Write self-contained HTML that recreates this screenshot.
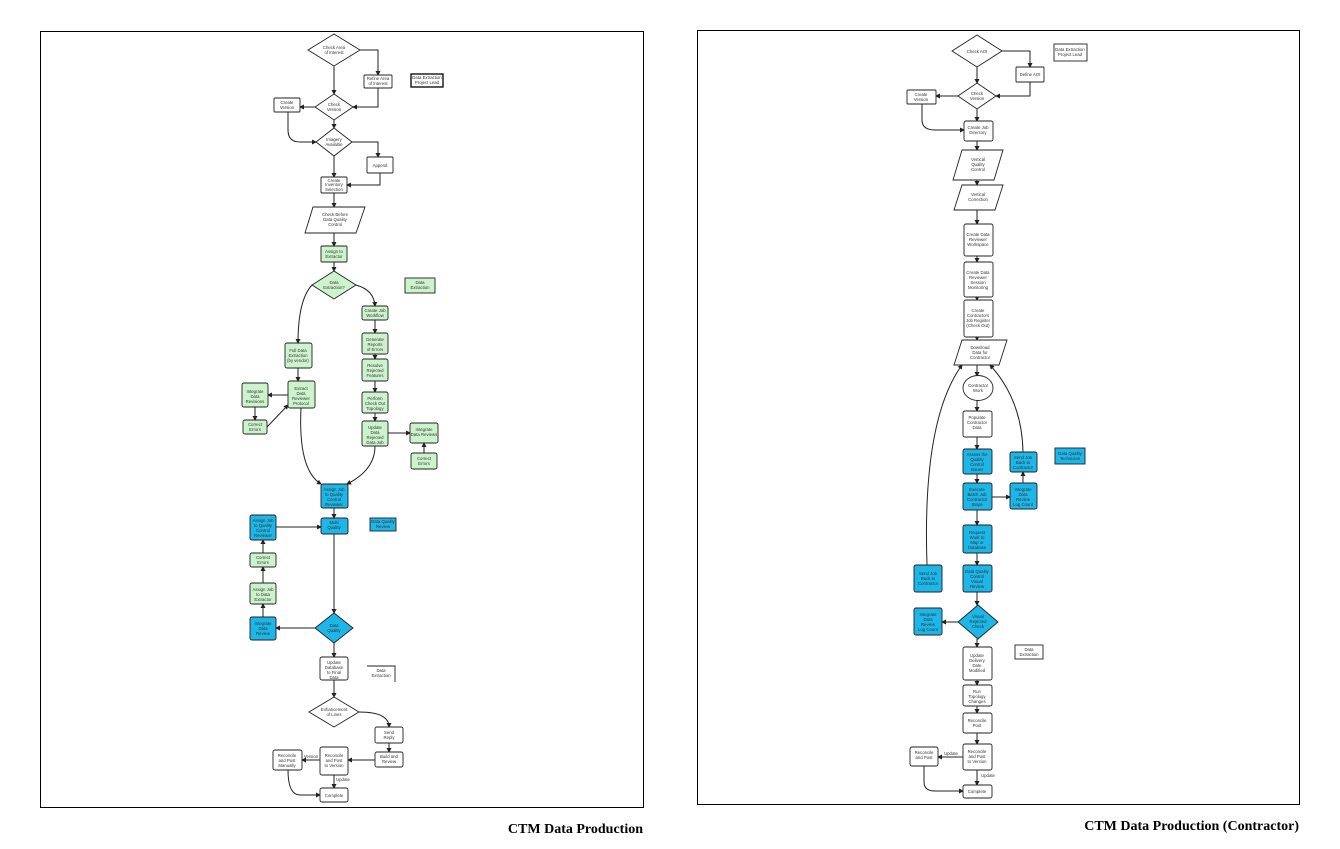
<!DOCTYPE html>
<html><head><meta charset="utf-8"><style>
html,body{margin:0;padding:0;background:#fff;width:1340px;height:849px;overflow:hidden}
svg{display:block}
.t{font-family:"Liberation Sans",sans-serif;font-size:4.3px;fill:#333;text-anchor:middle}
.b{fill:#fff;stroke:#222;stroke-width:0.9}
.g{fill:#cdf3cd;stroke:#222;stroke-width:0.9}
.c{fill:#1cb6e8;stroke:#222;stroke-width:0.9}
.l{fill:none;stroke:#222;stroke-width:1}
.cap{font-family:"Liberation Serif",serif;font-weight:bold;font-size:14px;fill:#000;text-anchor:end}
</style></head><body>
<svg width="1340" height="849" viewBox="0 0 1340 849">
<defs><marker id="a" markerWidth="5" markerHeight="5" refX="4" refY="2.5" orient="auto"><path d="M0,0L5,2.5L0,5z" fill="#222"/></marker></defs>
<rect x="40.5" y="31.5" width="603" height="776" fill="none" stroke="#000" stroke-width="1"/>
<rect x="697.5" y="30.5" width="602" height="774" fill="none" stroke="#000" stroke-width="1"/>
<text class="cap" x="643" y="833">CTM Data Production</text>
<text class="cap" x="1299" y="830">CTM Data Production (Contractor)</text>

<!-- LEFT connectors -->
<g class="l" marker-end="url(#a)">
<path d="M334,66V94"/>
<path d="M360,50H378V75"/>
<path d="M378,88V107H353"/>
<path d="M315,107H300"/>
<path d="M334,120V128"/>
<path d="M288,112V130Q288,142 300,142H316"/>
<path d="M352,142H378V157"/>
<path d="M334,156V177"/>
<path d="M380,173V185H347"/>
<path d="M334,193V207"/>
<path d="M334,233V246"/>
<path d="M334,262V271"/>
<path d="M356,285Q374,290 375,306"/>
<path d="M312,285Q298,300 298,343"/>
<path d="M375,320V333"/><path d="M375,354V359"/><path d="M375,381V392"/><path d="M375,413V421"/>
<path d="M388,433H410"/><path d="M424,453V443"/>
<path d="M298,368V381"/>
<path d="M288,395H268"/><path d="M255,407V420"/><path d="M267,427L288,405"/>
<path d="M301,408Q298,470 321,484"/>
<path d="M375,446Q375,470 347,484"/>
<path d="M334,508V518"/>
<path d="M276,527H321"/>
<path d="M334,534V613"/>
<path d="M315,628H276"/>
<path d="M263,617V604"/><path d="M263,583V567"/><path d="M263,553V540"/>
<path d="M334,643V657"/>
<path d="M334,680V697"/>
<path d="M359,712Q389,712 389,727"/>
<path d="M389,743V752"/>
<path d="M375,760H348"/>
<path d="M320,760H302"/>
<path d="M334,775V788"/>
<path d="M288,770Q288,795 300,795H320"/>
</g>
<!-- LEFT nodes -->
<polygon class="b" points="334,34 360,50 334,66 308,50"/><text class="t" x="334" y="49">Check Area</text><text class="t" x="334" y="54">of Interest</text>
<rect class="b" x="364" y="75" width="28" height="13" rx="1"/><text class="t" x="378" y="80">Refine Area</text><text class="t" x="378" y="85">of Interest</text>
<rect x="411" y="74" width="32" height="13" fill="#fff" stroke="#000" stroke-width="1.3"/><text class="t" x="427" y="79">Data Extraction</text><text class="t" x="427" y="84">Project Lead</text>
<polygon class="b" points="334,94 353,107 334,120 315,107"/><text class="t" x="334" y="106">Check</text><text class="t" x="334" y="111">Version</text>
<rect class="b" x="274" y="98" width="26" height="14" rx="1"/><text class="t" x="287" y="104">Create</text><text class="t" x="287" y="109">Version</text>
<polygon class="b" points="334,128 352,142 334,156 316,142"/><text class="t" x="334" y="141">Imagery</text><text class="t" x="334" y="146">Available</text>
<rect class="b" x="367" y="157" width="26" height="16" rx="1"/><text class="t" x="380" y="167">Append</text>
<rect class="b" x="321" y="177" width="26" height="16" rx="1"/><text class="t" x="334" y="182">Create</text><text class="t" x="334" y="186">Inventory</text><text class="t" x="334" y="191">Selection</text>
<polygon class="b" points="313,207 365,207 356,233 305,233"/><text class="t" x="335" y="216">Check Before</text><text class="t" x="335" y="221">Data Quality</text><text class="t" x="335" y="226">Control</text>
<rect class="g" x="321" y="246" width="26" height="16" rx="1"/><text class="t" x="334" y="253">Assign to</text><text class="t" x="334" y="258">Extractor</text>
<polygon class="g" points="334,271 356,285 334,299 312,285"/><text class="t" x="334" y="284">Data</text><text class="t" x="334" y="289">Extraction?</text>
<rect class="g" x="405" y="278" width="30" height="15"/><text class="t" x="420" y="284">Data</text><text class="t" x="420" y="289">Extraction</text>
<rect class="g" x="285" y="343" width="27" height="25" rx="2"/><text class="t" x="298" y="352">Full Data</text><text class="t" x="298" y="357">Extraction</text><text class="t" x="298" y="362">(by vendor)</text>
<rect class="g" x="288" y="381" width="27" height="27" rx="2"/><text class="t" x="301" y="390">Extract</text><text class="t" x="301" y="395">Data</text><text class="t" x="301" y="400">Reviewer</text><text class="t" x="301" y="405">Protocol</text>
<rect class="g" x="242" y="383" width="26" height="24" rx="2"/><text class="t" x="255" y="393">Integrate</text><text class="t" x="255" y="398">Data</text><text class="t" x="255" y="403">Revisions</text>
<rect class="g" x="243" y="420" width="24" height="14" rx="2"/><text class="t" x="255" y="426">Correct</text><text class="t" x="255" y="431">Errors</text>
<rect class="g" x="362" y="306" width="26" height="14" rx="2"/><text class="t" x="375" y="312">Create Job</text><text class="t" x="375" y="317">Workflow</text>
<rect class="g" x="362" y="333" width="26" height="21" rx="2"/><text class="t" x="375" y="341">Generate</text><text class="t" x="375" y="346">Reports</text><text class="t" x="375" y="351">of Errors</text>
<rect class="g" x="362" y="359" width="26" height="22" rx="2"/><text class="t" x="375" y="367">Resolve</text><text class="t" x="375" y="372">Rejected</text><text class="t" x="375" y="377">Features</text>
<rect class="g" x="362" y="392" width="26" height="21" rx="2"/><text class="t" x="375" y="400">Perform</text><text class="t" x="375" y="405">Check Out</text><text class="t" x="375" y="410">Topology</text>
<rect class="g" x="362" y="421" width="26" height="25" rx="2"/><text class="t" x="375" y="429">Update</text><text class="t" x="375" y="434">Data</text><text class="t" x="375" y="439">Rejected</text><text class="t" x="375" y="444">Data Job</text>
<rect class="g" x="410" y="423" width="28" height="20" rx="2"/><text class="t" x="424" y="431">Integrate</text><text class="t" x="424" y="436">Data Reviews</text>
<rect class="g" x="411" y="453" width="26" height="16" rx="2"/><text class="t" x="424" y="460">Correct</text><text class="t" x="424" y="465">Errors</text>
<rect class="c" x="321" y="484" width="27" height="24" rx="2"/><text class="t" x="334" y="491">Assign Job</text><text class="t" x="334" y="496">to Quality</text><text class="t" x="334" y="501">Control</text><text class="t" x="334" y="506">Reviewer</text>
<rect class="c" x="321" y="518" width="27" height="16" rx="2"/><text class="t" x="334" y="524">Multi</text><text class="t" x="334" y="529">Quality</text>
<rect class="c" x="370" y="518" width="26" height="13"/><text class="t" x="383" y="523">Data Quality</text><text class="t" x="383" y="528">Review</text>
<rect class="c" x="250" y="515" width="26" height="25" rx="2"/><text class="t" x="263" y="522">Assign Job</text><text class="t" x="263" y="527">to Quality</text><text class="t" x="263" y="532">Control</text><text class="t" x="263" y="537">Reviewer</text>
<rect class="g" x="250" y="553" width="26" height="14" rx="2"/><text class="t" x="263" y="559">Correct</text><text class="t" x="263" y="564">Errors</text>
<rect class="g" x="250" y="583" width="26" height="21" rx="2"/><text class="t" x="263" y="591">Assign Job</text><text class="t" x="263" y="596">to Data</text><text class="t" x="263" y="601">Extractor</text>
<rect class="c" x="250" y="617" width="26" height="23" rx="2"/><text class="t" x="263" y="625">Integrate</text><text class="t" x="263" y="630">Data</text><text class="t" x="263" y="635">Review</text>
<polygon class="c" points="334,613 353,628 334,643 315,628"/><text class="t" x="334" y="627">Data</text><text class="t" x="334" y="632">Quality</text>
<rect class="b" x="320" y="657" width="28" height="23" rx="2"/><text class="t" x="334" y="664">Update</text><text class="t" x="334" y="669">Database</text><text class="t" x="334" y="674">to Final</text><text class="t" x="334" y="679">Data</text>
<path d="M367,666H395V682" fill="none" stroke="#222" stroke-width="0.9"/><text class="t" x="381" y="672">Data</text><text class="t" x="381" y="677">Extraction</text>
<polygon class="b" points="334,697 359,712 334,727 309,712"/><text class="t" x="334" y="711">Enhancement</text><text class="t" x="334" y="716">of Lines</text>
<rect class="b" x="375" y="727" width="28" height="16" rx="2"/><text class="t" x="389" y="734">Send</text><text class="t" x="389" y="739">Reply</text>
<rect class="b" x="375" y="752" width="28" height="15" rx="2"/><text class="t" x="389" y="758">Build and</text><text class="t" x="389" y="763">Review</text>
<rect class="b" x="320" y="747" width="28" height="28" rx="2"/><text class="t" x="334" y="757">Reconcile</text><text class="t" x="334" y="762">and Post</text><text class="t" x="334" y="767">to Version</text>
<text class="t" x="343" y="781">Update</text><text class="t" x="311" y="758">Version</text>
<rect class="b" x="273" y="750" width="29" height="20" rx="2"/><text class="t" x="287" y="757">Reconcile</text><text class="t" x="287" y="762">and Post</text><text class="t" x="287" y="767">Manually</text>
<rect class="b" x="320" y="788" width="28" height="14" rx="2"/><text class="t" x="334" y="797">Complete</text>

<!-- RIGHT connectors -->
<g class="l" marker-end="url(#a)">
<path d="M977,67V83"/>
<path d="M1002,51H1030V67"/>
<path d="M1030,82V96H996"/>
<path d="M958,96H936"/>
<path d="M977,109V121"/>
<path d="M922,104V120Q922,130 935,130H964"/>
<path d="M977,141V150"/><path d="M977,180V185"/><path d="M977,210V224"/>
<path d="M977,256V262"/><path d="M977,297V300"/><path d="M977,337V340"/>
<path d="M977,365V376"/><path d="M977,400V411"/><path d="M977,437V449"/>
<path d="M977,474V483"/><path d="M977,510V525"/><path d="M977,553V565"/><path d="M977,592V605"/>
<path d="M992,497H1010"/><path d="M1023,483V472"/>
<path d="M927,565Q922,420 962,365"/>
<path d="M1023,452Q1022,400 990,365"/>
<path d="M958,622H942"/>
<path d="M977,639V647"/><path d="M977,680V685"/><path d="M977,706V713"/><path d="M977,733V744"/>
<path d="M963,757H938"/>
<path d="M977,770V785"/>
<path d="M924,766V782Q924,791 935,791H963"/>
</g>
<!-- RIGHT nodes -->
<polygon class="b" points="977,35 1002,51 977,67 952,51"/><text class="t" x="977" y="53">Check AOI</text>
<rect class="b" x="1016" y="67" width="28" height="15" rx="1"/><text class="t" x="1030" y="76">Define AOI</text>
<rect class="b" x="1054" y="44" width="33" height="17"/><text class="t" x="1070" y="51">Data Extraction</text><text class="t" x="1070" y="56">Project Lead</text>
<polygon class="b" points="977,83 996,96 977,109 958,96"/><text class="t" x="977" y="95">Check</text><text class="t" x="977" y="100">Version</text>
<rect class="b" x="907" y="90" width="29" height="14" rx="1"/><text class="t" x="921" y="96">Create</text><text class="t" x="921" y="101">Version</text>
<rect class="b" x="964" y="121" width="29" height="20" rx="2"/><text class="t" x="978" y="129">Create Job</text><text class="t" x="978" y="134">Directory</text>
<polygon class="b" points="962,150 1003,150 994,180 953,180"/><text class="t" x="978" y="161">Vertical</text><text class="t" x="978" y="166">Quality</text><text class="t" x="978" y="171">Control</text>
<polygon class="b" points="962,185 1003,185 995,210 954,210"/><text class="t" x="978" y="196">Vertical</text><text class="t" x="978" y="201">Correction</text>
<rect class="b" x="964" y="224" width="29" height="32" rx="2"/><text class="t" x="978" y="236">Create Data</text><text class="t" x="978" y="241">Reviewer</text><text class="t" x="978" y="246">Workspace</text>
<rect class="b" x="964" y="262" width="29" height="35" rx="2"/><text class="t" x="978" y="274">Create Data</text><text class="t" x="978" y="279">Reviewer</text><text class="t" x="978" y="284">Session</text><text class="t" x="978" y="289">Monitoring</text>
<rect class="b" x="964" y="300" width="29" height="37" rx="2"/><text class="t" x="978" y="312">Create</text><text class="t" x="978" y="317">Contractors</text><text class="t" x="978" y="322">Job Register</text><text class="t" x="978" y="327">(Check Out)</text>
<polygon class="b" points="962,340 1007,340 999,365 954,365"/><text class="t" x="980" y="349">Download</text><text class="t" x="980" y="354">Data for</text><text class="t" x="980" y="359">Contractor</text>
<ellipse class="b" cx="978" cy="388" rx="15" ry="12.5"/><text class="t" x="978" y="387">Contractor</text><text class="t" x="978" y="392">Work</text>
<rect class="b" x="963" y="411" width="29" height="26" rx="2"/><text class="t" x="977" y="419">Populate</text><text class="t" x="977" y="424">Contractor</text><text class="t" x="977" y="429">Data</text>
<rect class="c" x="963" y="449" width="29" height="25" rx="2"/><text class="t" x="977" y="456">Assess the</text><text class="t" x="977" y="461">Quality</text><text class="t" x="977" y="466">Control</text><text class="t" x="977" y="471">Issues</text>
<rect class="c" x="963" y="483" width="29" height="27" rx="2"/><text class="t" x="977" y="491">Execute</text><text class="t" x="977" y="496">Batch Job</text><text class="t" x="977" y="501">Contractor</text><text class="t" x="977" y="506">Steps</text>
<rect class="c" x="1010" y="452" width="27" height="20" rx="2"/><text class="t" x="1023" y="459">Send Job</text><text class="t" x="1023" y="464">Back to</text><text class="t" x="1023" y="469">Contractor</text>
<rect class="c" x="1010" y="483" width="27" height="26" rx="2"/><text class="t" x="1023" y="491">Integrate</text><text class="t" x="1023" y="496">Data</text><text class="t" x="1023" y="501">Review</text><text class="t" x="1023" y="506">Log Count</text>
<rect class="c" x="1055" y="448" width="30" height="16"/><text class="t" x="1070" y="455">Data Quality</text><text class="t" x="1070" y="460">Technician</text>
<rect class="c" x="963" y="525" width="29" height="28" rx="2"/><text class="t" x="977" y="534">Request</text><text class="t" x="977" y="539">Work to</text><text class="t" x="977" y="544">Map or</text><text class="t" x="977" y="549">Database</text>
<rect class="c" x="963" y="565" width="29" height="27" rx="2"/><text class="t" x="977" y="573">Data Quality</text><text class="t" x="977" y="578">Control</text><text class="t" x="977" y="583">Visual</text><text class="t" x="977" y="588">Review</text>
<rect class="c" x="914" y="565" width="28" height="27" rx="2"/><text class="t" x="928" y="575">Send Job</text><text class="t" x="928" y="580">Back to</text><text class="t" x="928" y="585">Contractor</text>
<polygon class="c" points="978,605 998,622 978,639 958,622"/><text class="t" x="978" y="618">Visual</text><text class="t" x="978" y="623">Rejected</text><text class="t" x="978" y="628">Check</text>
<rect class="c" x="914" y="608" width="28" height="27" rx="2"/><text class="t" x="928" y="616">Integrate</text><text class="t" x="928" y="621">Data</text><text class="t" x="928" y="626">Review</text><text class="t" x="928" y="631">Log Count</text>
<rect class="b" x="1015" y="645" width="28" height="14"/><text class="t" x="1029" y="651">Data</text><text class="t" x="1029" y="656">Extraction</text>
<rect class="b" x="963" y="647" width="29" height="33" rx="2"/><text class="t" x="977" y="657">Update</text><text class="t" x="977" y="662">Delivery</text><text class="t" x="977" y="667">Date</text><text class="t" x="977" y="672">Modified</text>
<rect class="b" x="963" y="685" width="29" height="21" rx="2"/><text class="t" x="977" y="693">Run</text><text class="t" x="977" y="698">Topology</text><text class="t" x="977" y="703">Changes</text>
<rect class="b" x="963" y="713" width="29" height="20" rx="2"/><text class="t" x="977" y="722">Reconcile</text><text class="t" x="977" y="727">Post</text>
<rect class="b" x="963" y="744" width="29" height="26" rx="2"/><text class="t" x="977" y="753">Reconcile</text><text class="t" x="977" y="758">and Post</text><text class="t" x="977" y="763">to Version</text>
<text class="t" x="951" y="755">Update</text><text class="t" x="988" y="777">Update</text>
<rect class="b" x="910" y="747" width="28" height="19" rx="2"/><text class="t" x="924" y="754">Reconcile</text><text class="t" x="924" y="759">and Post</text>
<rect class="b" x="963" y="785" width="29" height="13" rx="2"/><text class="t" x="977" y="793">Complete</text>
</svg>
</body></html>
